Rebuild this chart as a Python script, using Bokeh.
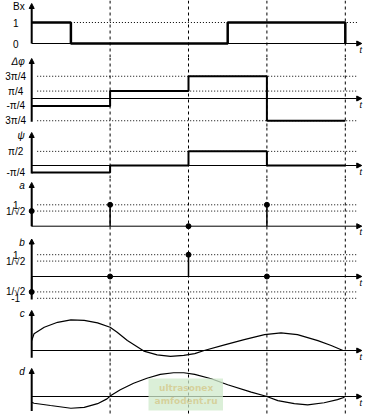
import numpy as np
from bokeh.plotting import figure
from bokeh.layouts import column
from bokeh.models import Range1d, Arrow, NormalHead, BoxAnnotation, Span
from bokeh.core.properties import value
from bokeh.embed import file_html
from bokeh.resources import INLINE

PI = np.pi
R2 = 1 / np.sqrt(2)

# ---------------- data ----------------
bx_t = [0, 0.5, 2.5, 4.0]
bx_v = [1, 0, 1, 0]

sym_edges = [0, 1, 2, 3, 4]
dphi_v = [-PI / 4, PI / 4, 3 * PI / 4, -3 * PI / 4]
psi_v = [-PI / 4, 0, PI / 2, 0]

samp_t = [0, 1, 2, 3]
a_v = [R2, 1, 0, 1]
b_v = [-R2, 0, 1, 0]

c_t = [0.0, 0.03, 0.16, 0.33, 0.50, 0.67, 0.84, 1.00, 1.09, 1.22, 1.35, 1.43, 1.60,
       1.77, 1.94, 2.08, 2.20, 2.46, 2.71, 2.97, 3.18, 3.39, 3.65, 3.82, 3.97]
c_v = [0.32, 0.54, 0.75, 0.91, 0.99, 0.97, 0.89, 0.75, 0.59, 0.32, 0.11, -0.02, -0.14,
       -0.19, -0.16, -0.10, 0.0, 0.18, 0.35, 0.51, 0.57, 0.51, 0.32, 0.16, 0.0]

d_t = [0.0, 0.03, 0.24, 0.50, 0.67, 0.84, 0.96, 1.01, 1.13, 1.30, 1.47, 1.64, 1.81,
       1.94, 2.08, 2.29, 2.50, 2.80, 2.99, 3.14, 3.35, 3.52, 3.73, 3.90, 3.99]
d_v = [-0.24, -0.28, -0.375, -0.49, -0.45, -0.30, -0.10, 0.04, 0.28, 0.55, 0.76, 0.92, 0.99,
       0.99, 0.92, 0.74, 0.49, 0.18, 0.01, -0.17, -0.30, -0.35, -0.26, -0.13, -0.03]

# tick labels
bx_ticks = [0, 1]
bx_labels = ["0", "1"]
dphi_ticks = [-3 * PI / 4, -PI / 4, PI / 4, 3 * PI / 4]
dphi_labels = ["3π/4", "-π/4", "π/4", "3π/4"]
psi_ticks = [-PI / 4, PI / 2]
psi_labels = ["-π/4", "π/2"]
a_ticks = [R2, 1]
a_labels = ["1/√2", "1"]
b_ticks = [-1, -R2, R2, 1]
b_labels = ["-1", "1/√2", "1/√2", "1"]

# ---------------- layout helpers ----------------
W = 368
PX_PER_T = 78.4
X0 = -31.2 / PX_PER_T
X1 = X0 + W / PX_PER_T
XE = 4.21
FONT = "Liberation Sans"


def panel(name, zero_y, scale, band, ticks, labels, axis_top, axis_bot, italic=True):
    top, bot = band
    y_top = (zero_y - top) / scale
    y_bot = -(bot - zero_y) / scale
    p = figure(width=W, height=bot - top, x_range=Range1d(X0, X1),
               y_range=Range1d(y_bot, y_top), output_backend="svg",
               toolbar_location=None, min_border=0)
    p.xaxis.visible = False
    p.yaxis.visible = False
    p.xgrid.visible = False
    p.ygrid.visible = False
    p.outline_line_color = None
    p.background_fill_color = "white"
    p.border_fill_color = "white"
    # dashed verticals
    for t in [1, 2, 3, 4]:
        p.add_layout(Span(location=t, dimension="height", line_color="black",
                          line_width=1, line_dash="3 3"))
    # vertical axis with arrow
    p.add_layout(Arrow(end=NormalHead(size=5, fill_color="black", line_color="black"),
                       x_start=0, y_start=axis_bot, x_end=0, y_end=axis_top,
                       line_width=2, line_color="black"))
    if ticks:
        p.text(x=[0] * len(ticks), y=ticks, text=labels, x_offset=-16,
               text_align="center", text_baseline="middle",
               text_font=value(FONT), text_font_size="10px", text_color="black")
    p.text(x=[0], y=[axis_top], text=[name], x_offset=-7, y_offset=3,
           text_align="right", text_baseline="middle",
           text_font=value(FONT), text_font_size="10px",
           text_font_style="italic" if italic else "normal", text_color="black")
    # horizontal t axis with arrow
    p.add_layout(Arrow(end=NormalHead(size=5, fill_color="black", line_color="black"),
                       x_start=0, y_start=0, x_end=XE, y_end=0,
                       line_width=1, line_color="black"))
    p.text(x=[XE], y=[0], text=["t"], x_offset=-1, y_offset=1,
           text_align="center", text_baseline="top",
           text_font=value(FONT), text_font_size="9px", text_font_style="italic",
           text_color="black")
    return p


def dotted(p, levels, x0=0.07, x1=4.15):
    n = len(levels)
    p.segment(x0=[x0] * n, y0=levels, x1=[x1] * n, y1=levels,
              line_color="black", line_width=1, line_dash="1 2")


figs = []

# Bx
p = panel("Bx", 43, 21, (0, 57), bx_ticks, bx_labels, (43 - 3) / 21, 0, italic=False)
dotted(p, [1], x0=0.5)
p.step(x=bx_t, y=bx_v, mode="after", line_color="black", line_width=2.5)
figs.append(p)

# delta phi
p = panel("Δφ", 98, 9.44, (57, 127), dphi_ticks, dphi_labels,
          (98 - 58) / 9.44, -3 * PI / 4 - 0.1)
dotted(p, [3 * PI / 4, PI / 4, -3 * PI / 4])
p.step(x=sym_edges, y=dphi_v + [dphi_v[-1]], mode="after", line_color="black", line_width=2)
figs.append(p)

# psi
p = panel("ψ", 165, 9.0, (127, 178), psi_ticks, psi_labels,
          (165 - 132) / 9.0, -PI / 4 - 0.1)
dotted(p, [PI / 2])
p.step(x=sym_edges, y=psi_v + [psi_v[-1]], mode="after", line_color="black", line_width=2)
figs.append(p)

# a
p = panel("a", 225.7, 21.4, (178, 238), a_ticks, a_labels, (225.7 - 182) / 21.4, 0)
dotted(p, [1, R2])
p.segment(x0=samp_t, y0=[0] * len(samp_t), x1=samp_t, y1=a_v, line_color="black", line_width=1.5)
p.scatter(x=samp_t, y=a_v, size=5, color="black")
figs.append(p)

# b
p = panel("b", 276, 21.8, (238, 304), b_ticks, b_labels, (276 - 238.5) / 21.8, -1.05)
dotted(p, [1, R2, -R2, -1])
p.segment(x0=samp_t, y0=[0] * len(samp_t), x1=samp_t, y1=b_v, line_color="black", line_width=1.5)
p.scatter(x=samp_t, y=b_v, size=5, color="black")
figs.append(p)

# c
p = panel("c", 350, 31, (304, 362), [], [], (350 - 310) / 31, -0.23)
p.line(x=c_t, y=c_v, line_color="black", line_width=1.2)
figs.append(p)

# d
p = panel("d", 396, 24, (362, 415), [], [], (396 - 368) / 24, -0.6)
p.line(x=d_t, y=d_v, line_color="black", line_width=1.2)
p.add_layout(BoxAnnotation(left=1.49, right=2.44, bottom=-0.58, top=0.75,
                           fill_color="#cfeacb", fill_alpha=0.75, line_color=None))
p.text(x=[1.97, 1.97], y=[0.37, -0.17], text=["ultrasonex", "amfodent.ru"],
       text_align="center", text_baseline="middle", text_font=value("DejaVu Sans"),
       text_font_size="9px", text_font_style="bold", text_color="#e8860a")
figs.append(p)

layout = column(*figs, spacing=0)
open("out.html", "w").write(file_html(layout, INLINE))
